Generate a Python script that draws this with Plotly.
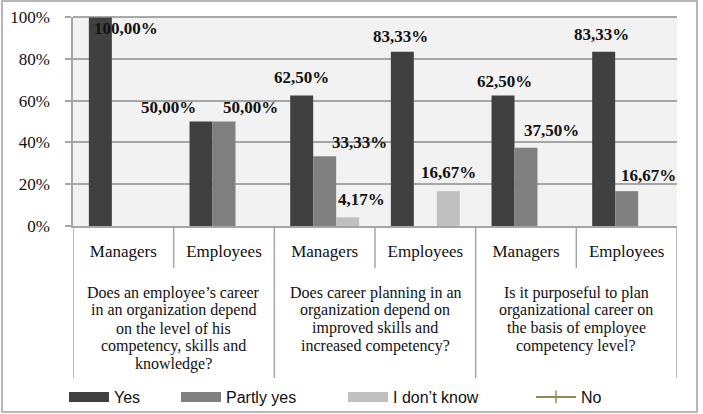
import plotly.graph_objects as go

# ---------------- data ----------------
subgroups = ["Managers", "Employees", "Managers", "Employees", "Managers", "Employees"]
questions = [
    ["Does an employee’s career", "in an organization depend", "on the level of his",
     "competency, skills and", "knowledge?"],
    ["Does career planning in an", "organization depend on", "improved skills and",
     "increased competency?"],
    ["Is it purposeful to plan", "organizational career on", "the basis of employee",
     "competency level?"],
]
series_names = ["Yes", "Partly yes", "I don’t know", "No"]
yes = [100.00, 50.00, 62.50, 83.33, 62.50, 83.33]
partly_yes = [0, 50.00, 33.33, 0, 37.50, 16.67]
dont_know = [0, 0, 4.17, 16.67, 0, 0]
no = [None, None, None, None, None, None]
y_ticks = [0, 20, 40, 60, 80, 100]
y_tick_labels = ["0%", "20%", "40%", "60%", "80%", "100%"]

# ---------------- style ----------------
W, H = 703, 414
PL, PR, PT, PB = 73, 677, 17, 226          # plot area in pixels
PW, PH = PR - PL, PB - PT
colors = ["#404040", "#808080", "#c0c0c0", "#948a54"]
grid = "#a6a6a6"
serif = "Liberation Serif"
sans = "Liberation Sans"
txt = "#111111"
BARGAP = 0.315
bw = (1 - BARGAP) / 3

def px_x(p):
    return (p - PL) / PW

def px_y(p):
    return (PB - p) / PH

# label offsets (pixels) relative to the top-centre of each bar
label_shift = {
    (0, 0): (26, -11), (0, 1): (-33, 14), (1, 1): (26, 14),
    (0, 2): (0, 18), (1, 2): (35, 14), (2, 2): (14, 18),
    (0, 3): (-2, 15), (2, 3): (0, 19),
    (0, 4): (1, 14), (1, 4): (25, 17),
    (0, 5): (-2, 17), (1, 5): (22, 16),
}

xs = list(range(len(subgroups)))
fig = go.Figure()
bar_values = [yes, partly_yes, dont_know]
for j, vals in enumerate(bar_values):
    fig.add_trace(go.Bar(x=xs, y=vals, name=series_names[j], marker_color=colors[j],
                         marker_line_width=0, showlegend=False))

# legend entries (one legend per entry so they can be spaced like the original)
legend_x = [64, 176, 343, 531]
for j, name in enumerate(series_names):
    lg = "legend" if j == 0 else f"legend{j+1}"
    if j < 3:
        tr = go.Scatter(x=[None], y=[None], mode="lines", name=name,
                        line=dict(color=colors[j], width=11), legend=lg)
    else:
        tr = go.Scatter(x=[None], y=[None], mode="lines+markers", name=name,
                        line=dict(color=colors[j], width=2),
                        marker=dict(symbol="line-ns-open", size=9,
                                    line=dict(color=colors[j], width=1.5)),
                        legend=lg)
    fig.add_trace(tr)

legends = {}
for j in range(4):
    key = "legend" if j == 0 else f"legend{j+1}"
    legends[key] = dict(x=px_x(legend_x[j]), y=px_y(397), xanchor="left", yanchor="middle",
                        orientation="h", itemwidth=40, bgcolor="rgba(0,0,0,0)",
                        font=dict(family=sans, size=16, color=txt), itemclick=False)

annotations = []
for j, vals in enumerate(bar_values):
    for i, v in enumerate(vals):
        if v and v > 0:
            dx, dy = label_shift.get((j, i), (0, 15))
            annotations.append(dict(
                x=i + (j - 1) * bw, y=v, xref="x", yref="y",
                text=f"{v:.2f}".replace(".", ",") + "%", showarrow=False,
                xshift=dx, yshift=dy, yanchor="middle",
                font=dict(family=serif, size=17, color=txt, weight="bold")))

line_y0 = 292.5
line_step = 17.8
for q, lines in enumerate(questions):
    for k, ln in enumerate(lines):
        annotations.append(dict(
            x=2 * q + 0.5, y=0, xref="x", yref="paper", text=ln, showarrow=False,
            yanchor="middle", yshift=-(line_y0 + k * line_step - PB),
            font=dict(family=serif, size=16, color=txt)))

shapes = []
# outer frame
shapes.append(dict(type="rect", xref="paper", yref="paper",
                   x0=px_x(2), x1=px_x(697), y0=px_y(412), y1=px_y(1),
                   line=dict(color="#a0a0a0", width=1.5), fillcolor="rgba(0,0,0,0)",
                   layer="below"))
# category dividers
for b in [0.5, 2.5, 4.5]:
    shapes.append(dict(type="line", xref="x", yref="paper", x0=b, x1=b,
                       y0=0, y1=px_y(268), line=dict(color=grid, width=1.5)))
for b in [-0.5, 1.5, 3.5, 5.5]:
    shapes.append(dict(type="line", xref="x", yref="paper", x0=b, x1=b,
                       y0=0, y1=px_y(378), line=dict(color=grid, width=1.5)))
# top border line of plot
shapes.append(dict(type="line", xref="paper", yref="paper", x0=0, x1=1, y0=1, y1=1,
                   line=dict(color="#8c8c8c", width=1.5)))

fig.update_layout(
    width=W, height=H,
    margin=dict(l=PL, r=W - PR, t=PT, b=H - PB, pad=0, autoexpand=False),
    paper_bgcolor="white", plot_bgcolor="#f2f2f2",
    barmode="group", bargap=BARGAP, bargroupgap=0,
    annotations=annotations, shapes=shapes, **legends,
    xaxis=dict(range=[-0.5, 5.5], tickmode="array", tickvals=xs, ticktext=subgroups,
               ticks="", showgrid=False, zeroline=False, showline=True,
               linecolor=grid, linewidth=1.5, ticklabelstandoff=9,
               tickfont=dict(family=serif, size=17, color=txt), fixedrange=True),
    yaxis=dict(range=[0, 100], tickmode="array", tickvals=y_ticks, ticktext=y_tick_labels,
               ticks="outside", ticklen=6, tickcolor=grid, tickwidth=1.5,
               showgrid=True, gridcolor=grid, gridwidth=1.5, zeroline=False,
               showline=True, linecolor=grid, linewidth=1.5, ticklabelstandoff=12,
               tickfont=dict(family=serif, size=17, color=txt), fixedrange=True),
)

fig.write_html("out.html")
